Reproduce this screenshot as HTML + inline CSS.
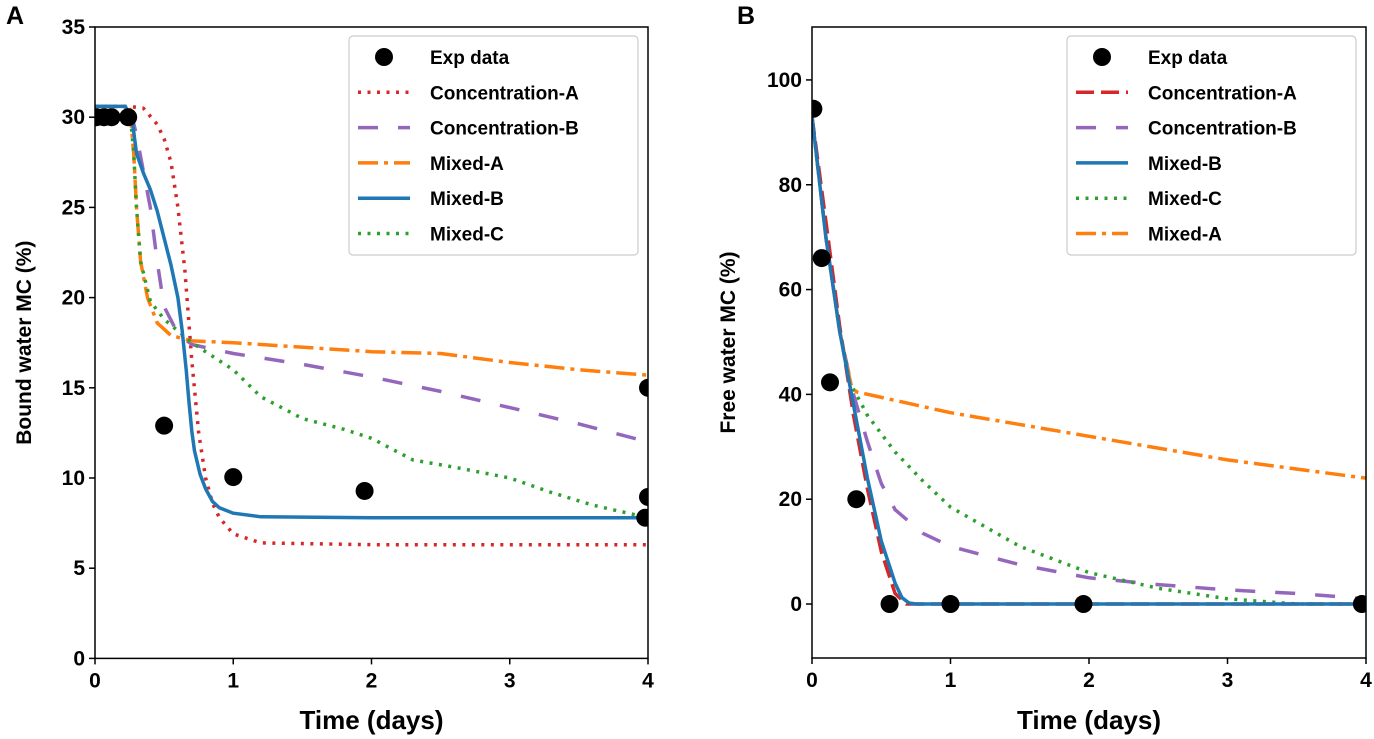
<!DOCTYPE html>
<html><head><meta charset="utf-8"><style>
html,body{margin:0;padding:0;background:#fff;}
svg{display:block;font-family:"Liberation Sans",sans-serif;}
</style></head><body>
<svg id="c" width="1374" height="739"></svg>
<script>
// Panel A data
const expA_x=[0.01,0.065,0.12,0.24,0.5,1.0,1.95,3.98,4.0,4.0];
const expA_y=[30,30,30,30,12.9,10.05,9.28,7.8,8.95,15];
const concA_x=[0,0.25,0.35,0.45,0.5,0.55,0.6,0.65,0.7,0.75,0.8,0.85,0.9,1.0,1.2,2,4];
const concA_y=[30.6,30.6,30.5,29.6,28.8,27.5,25,21.5,16.5,12.5,10,8.6,7.8,6.9,6.4,6.3,6.3];
const concB_x=[0,0.25,0.3,0.35,0.4,0.45,0.5,0.6,0.7,1.0,1.5,2,2.5,3,3.5,4];
const concB_y=[30.6,30.6,29,27,25,22,19.5,18,17.4,16.9,16.3,15.6,14.8,13.9,13,12];
const mixA_x=[0,0.25,0.28,0.3,0.33,0.38,0.45,0.55,0.7,1.0,2,2.5,3,3.5,4];
const mixA_y=[30.6,30.6,28,25,22,20,18.6,17.9,17.6,17.5,17.0,16.9,16.4,16.0,15.7];
const mixB_x=[0,0.22,0.27,0.3,0.35,0.4,0.45,0.5,0.55,0.6,0.63,0.66,0.68,0.7,0.72,0.76,0.8,0.85,0.9,1.0,1.2,2,4];
const mixB_y=[30.6,30.6,29.8,28,26.9,26,24.8,23.3,21.8,20,18.2,16,14.2,12.6,11.5,10.2,9.4,8.7,8.35,8.05,7.85,7.8,7.8];
const mixC_x=[0,0.25,0.28,0.3,0.33,0.4,0.5,0.7,0.8,1.0,1.2,1.5,1.8,2,2.3,2.6,3.0,3.3,3.6,4];
const mixC_y=[30.6,30.6,28,25,22,19.8,18.8,17.5,17,16,14.5,13.3,12.7,12.2,11,10.6,10,9.2,8.5,7.8];
const yTicksA=[0,5,10,15,20,25,30,35];
const xTicks=[0,1,2,3,4];
// Panel B data
const expB_x=[0.01,0.07,0.13,0.32,0.56,1.0,1.96,3.97];
const expB_y=[94.5,66,42.3,20,0,0,0,0];
const bConcA_x=[0,0.1,0.2,0.3,0.4,0.5,0.6,0.68,4];
const bConcA_y=[93,73,53,36,22,10,2,0,0];
const bConcB_x=[0,0.1,0.2,0.3,0.4,0.5,0.6,0.8,1,1.5,2,2.5,3,3.5,4];
const bConcB_y=[93,70,52,40,31,23,18,13.5,11,7.5,5,3.7,2.7,2,1];
const bMixB_x=[0,0.1,0.2,0.3,0.4,0.5,0.6,0.65,0.7,0.75,4];
const bMixB_y=[93,70,52,38,24,12,4,1.2,0.2,0,0];
const bMixC_x=[0,0.1,0.2,0.28,0.32,0.4,0.6,0.8,1,1.5,2,2.5,3,3.5,4];
const bMixC_y=[93,70,52,42,40,36,29,23.5,18.5,11,6,3,1,0,0];
const bMixA_x=[0,0.1,0.2,0.28,0.32,1,2,3,4];
const bMixA_y=[93,70,52,42,40.5,36.5,32,27.5,24];
const yTicksB=[0,20,40,60,80,100];

const NS="http://www.w3.org/2000/svg";
const svg=document.getElementById('c');
function mk(tag,attrs,parent){const e=document.createElementNS(NS,tag);for(const k in attrs)e.setAttribute(k,attrs[k]);(parent||svg).appendChild(e);return e;}
const RED='#d62728',PUR='#9467bd',ORA='#ff7f0e',BLU='#1f77b4',GRN='#2ca02c';
const styles={
 concA:{c:RED,d:'3,6.5',w:3.5},concB:{c:PUR,d:'20,20',w:3.5},mixA:{c:ORA,d:'20,6,4,6',w:3.5},
 mixB:{c:BLU,d:'',w:3.5},mixC:{c:GRN,d:'3,6.5',w:3.5},bconcA:{c:RED,d:'18,7',w:3.5}};

function panel(P){
 const g=mk('g',{});
 
 
 const sx=v=>P.x0+(v-P.xmin)/(P.xmax-P.xmin)*(P.x1-P.x0);
 const sy=v=>P.y1-(v-P.ymin)/(P.ymax-P.ymin)*(P.y1-P.y0);
 const cid='clip'+P.id;
 const cp=mk('clipPath',{id:cid},g);mk('rect',{x:P.x0,y:P.y0,width:P.x1-P.x0,height:P.y1-P.y0},cp);
 const plot=mk('g',{'clip-path':'url(#'+cid+')'},g);
 P.series.forEach(s=>{
  const d=s.x.map((v,i)=>(i?'L':'M')+sx(v).toFixed(1)+','+sy(s.y[i]).toFixed(1)).join('');
  const p=mk('path',{d:d,fill:'none',stroke:s.st.c,'stroke-width':s.st.w,'stroke-dasharray':s.st.d,'stroke-linejoin':'round'},plot);
  
  
 });
 P.ex.forEach((v,i)=>{
  const c=mk('circle',{cx:sx(v),cy:sy(P.ey[i]),r:9,fill:'#000'},plot);
  
  
 });
 const fr=mk('rect',{x:P.x0,y:P.y0,width:P.x1-P.x0,height:P.y1-P.y0,fill:'none',stroke:'#000','stroke-width':1.5},g);
 
 
 P.xt.forEach(v=>{
  mk('line',{x1:sx(v),x2:sx(v),y1:P.y1,y2:P.y1+6,stroke:'#000','stroke-width':1.5},g);
  const t=mk('text',{x:sx(v),y:P.y1+29,'text-anchor':'middle','font-size':21,'font-weight':'bold'},g);t.textContent=v;
  
  
 });
 P.yt.forEach(v=>{
  mk('line',{x1:P.x0-6,x2:P.x0,y1:sy(v),y2:sy(v),stroke:'#000','stroke-width':1.5},g);
  const t=mk('text',{x:P.x0-10,y:sy(v)+7,'text-anchor':'end','font-size':21,'font-weight':'bold'},g);t.textContent=v;
  
  
 });
 const xt=mk('text',{x:(P.x0+P.x1)/2,y:729,'text-anchor':'middle','font-size':26,'font-weight':'bold'},g);xt.textContent='Time (days)';
 
 
 const yc=(P.y0+P.y1)/2;
 const yt=mk('text',{x:P.ytx,y:yc,'text-anchor':'middle','font-size':21,'font-weight':'bold',transform:'rotate(-90 '+P.ytx+' '+yc+')'},g);yt.textContent=P.ytitle;
 
 
 const lb=mk('text',{x:P.lx,y:24,'font-size':25,'font-weight':'bold'},g);lb.textContent=P.id;
 
 
 const L=mk('g',{},g);
 
 
 mk('rect',{x:P.legx,y:36,width:289,height:219,rx:4,fill:'#fff',stroke:'#ccc','stroke-width':1.2},L);
 P.leg.forEach((e,i)=>{
  const yy=57+i*35.3;
  if(e.st){mk('line',{x1:P.legx+9,x2:P.legx+61,y1:yy,y2:yy,stroke:e.st.c,'stroke-width':e.st.w,'stroke-dasharray':e.st.d},L);}
  else mk('circle',{cx:P.legx+35,cy:yy,r:9,fill:'#000'},L);
  const t=mk('text',{x:P.legx+81,y:yy+7,'font-size':19,'font-weight':'bold'},L);t.textContent=e.t;
  
  
 });
}
panel({id:'A',name:'panel-a',x0:95,x1:648,y0:27,y1:658.4,xmin:0,xmax:4,ymin:0,ymax:35,xt:xTicks,yt:yTicksA,
 ytitle:'Bound water MC (%)',ytx:31,lx:6,legx:349,ex:expA_x,ey:expA_y,
 series:[{key:'concentration-a',x:concA_x,y:concA_y,st:styles.concA},{key:'concentration-b',x:concB_x,y:concB_y,st:styles.concB},
 {key:'mixed-a',x:mixA_x,y:mixA_y,st:styles.mixA},{key:'mixed-c',x:mixC_x,y:mixC_y,st:styles.mixC},{key:'mixed-b',x:mixB_x,y:mixB_y,st:styles.mixB}],
 leg:[{t:'Exp data'},{t:'Concentration-A',st:styles.concA},{t:'Concentration-B',st:styles.concB},{t:'Mixed-A',st:styles.mixA},{t:'Mixed-B',st:styles.mixB},{t:'Mixed-C',st:styles.mixC}]});
panel({id:'B',name:'panel-b',x0:812,x1:1366,y0:27,y1:658,xmin:0,xmax:4,ymin:-10.3,ymax:110.1,xt:xTicks,yt:yTicksB,
 ytitle:'Free water MC (%)',ytx:735,lx:737,legx:1067,ex:expB_x,ey:expB_y,
 series:[{key:'concentration-b',x:bConcB_x,y:bConcB_y,st:styles.concB},{key:'mixed-c',x:bMixC_x,y:bMixC_y,st:styles.mixC},
 {key:'mixed-a',x:bMixA_x,y:bMixA_y,st:styles.mixA},{key:'concentration-a',x:bConcA_x,y:bConcA_y,st:styles.bconcA},{key:'mixed-b',x:bMixB_x,y:bMixB_y,st:styles.mixB}],
 leg:[{t:'Exp data'},{t:'Concentration-A',st:styles.bconcA},{t:'Concentration-B',st:styles.concB},{t:'Mixed-B',st:styles.mixB},{t:'Mixed-C',st:styles.mixC},{t:'Mixed-A',st:styles.mixA}]});
</script>
</body></html>
